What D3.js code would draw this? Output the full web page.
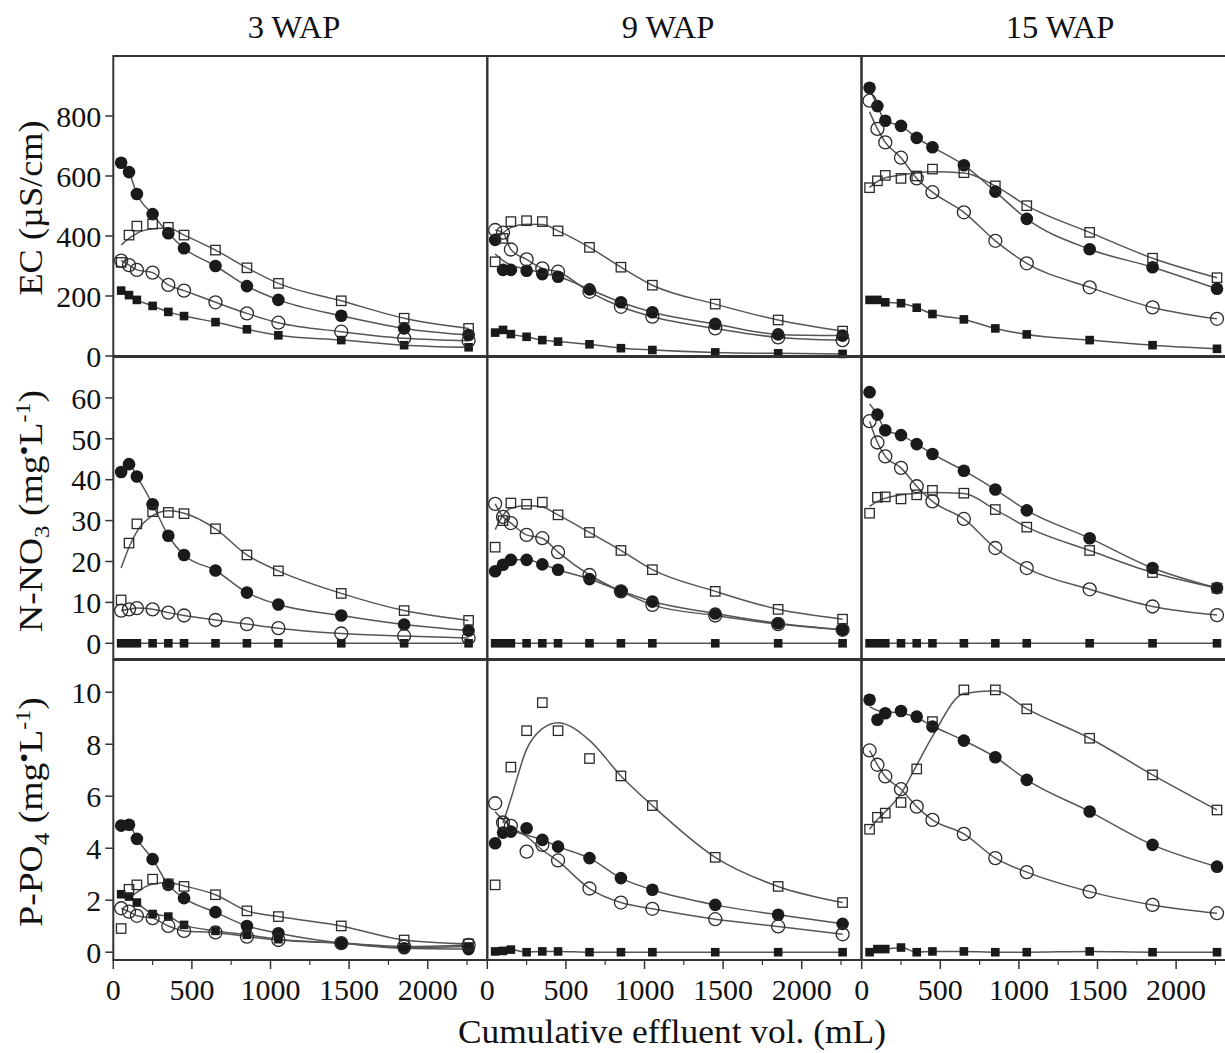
<!DOCTYPE html>
<html>
<head>
<meta charset="utf-8">
<script src="https://cdn.jsdelivr.net/npm/d3@7"></script>
<style>
  body { margin: 0; background: #fff; }
  svg { display: block; }
  text { font-family: "Liberation Serif", "Times New Roman", serif; fill: #111; }
</style>
</head>
<body>
<svg id="chart" width="1225" height="1053"></svg>
<script>
// cumulative effluent volume (mL) at each sampling
const volumes = [50, 100, 150, 250, 350, 450, 650, 850, 1050, 1450, 1850, 2260];
const weeks = ["3 WAP", "9 WAP", "15 WAP"];
// series order in every panel array below
const markers = ["filledCircle", "openCircle", "openSquare", "filledSquare"];

const ecTicks = [0, 200, 400, 600, 800];
const no3Ticks = [0, 10, 20, 30, 40, 50, 60];
const po4Ticks = [0, 2, 4, 6, 8, 10];
const xTicks = [0, 500, 1000, 1500, 2000];
const xMinorTicks = [250, 750, 1250, 1750, 2250];

// EC (uS/cm)
const ec3 = [
  [644, 613, 540, 473, 409, 359, 300, 233, 187, 134, 92, 70],
  [318, 303, 287, 278, 237, 218, 179, 142, 111, 81, 59, 51],
  [312, 403, 433, 440, 429, 403, 353, 294, 242, 184, 126, 92],
  [218, 203, 187, 167, 147, 133, 113, 89, 69, 53, 36, 29]
];
const ec9 = [
  [387, 287, 287, 284, 273, 264, 222, 179, 146, 107, 72, 68],
  [420, 411, 355, 322, 292, 281, 214, 164, 131, 92, 62, 53],
  [314, 392, 448, 451, 448, 417, 362, 296, 236, 173, 120, 83],
  [78, 87, 73, 64, 53, 48, 39, 26, 20, 12, 9, 7]
];
const ec15 = [
  [894, 833, 784, 767, 727, 696, 636, 548, 457, 356, 296, 224],
  [851, 757, 712, 661, 592, 546, 479, 384, 309, 229, 162, 124],
  [561, 584, 602, 592, 600, 623, 611, 567, 501, 412, 326, 261],
  [187, 187, 179, 176, 161, 140, 122, 92, 72, 53, 36, 24]
];

// N-NO3 (mg/L)
const no3_3 = [
  [41.9, 43.8, 40.8, 34.0, 26.3, 21.6, 17.8, 12.4, 9.5, 6.8, 4.6, 3.1],
  [8.0, 8.3, 8.6, 8.3, 7.5, 6.8, 5.7, 4.7, 3.7, 2.4, 1.8, 1.3],
  [10.6, 24.5, 29.2, 32.2, 32.0, 31.7, 28.0, 21.6, 17.7, 12.2, 8.0, 5.6],
  [0, 0, 0, 0, 0, 0, 0, 0, 0, 0, 0, 0]
];
const no3_9 = [
  [17.6, 19.2, 20.4, 20.4, 19.3, 18.0, 15.7, 12.8, 10.2, 7.3, 4.9, 3.3],
  [34.1, 30.9, 29.4, 26.5, 25.7, 22.3, 16.7, 12.7, 9.4, 6.8, 4.7, 3.3],
  [23.5, 30.0, 34.3, 34.0, 34.5, 31.4, 27.1, 22.7, 18.0, 12.7, 8.3, 5.9],
  [0, 0, 0, 0, 0, 0, 0, 0, 0, 0, 0, 0]
];
const no3_15 = [
  [61.4, 55.9, 52.1, 50.9, 48.7, 46.3, 42.2, 37.6, 32.5, 25.7, 18.4, 13.5],
  [54.3, 49.1, 45.7, 42.9, 38.4, 34.7, 30.4, 23.3, 18.4, 13.2, 9.0, 6.9],
  [31.8, 35.7, 35.8, 35.3, 36.3, 37.4, 36.7, 32.7, 28.4, 22.7, 17.3, 13.5],
  [0, 0, 0, 0, 0, 0, 0, 0, 0, 0, 0, 0]
];

// P-PO4 (mg/L)
const po4_3 = [
  [4.87, 4.90, 4.36, 3.58, 2.59, 2.08, 1.54, 1.01, 0.73, 0.35, 0.15, 0.12],
  [1.69, 1.56, 1.40, 1.31, 1.01, 0.82, 0.76, 0.60, 0.47, 0.35, 0.22, 0.28],
  [0.91, 2.42, 2.59, 2.81, 2.63, 2.53, 2.21, 1.59, 1.37, 1.01, 0.47, 0.32],
  [2.23, 2.14, 1.91, 1.47, 1.37, 1.05, 0.82, 0.67, 0.50, 0.35, 0.18, 0.22]
];
const po4_9 = [
  [4.19, 4.60, 4.64, 4.77, 4.32, 4.06, 3.62, 2.85, 2.40, 1.82, 1.44, 1.09],
  [5.73, 4.99, 4.86, 3.87, 4.13, 3.53, 2.45, 1.91, 1.67, 1.27, 0.99, 0.69],
  [2.59, 4.96, 7.12, 8.52, 9.60, 8.52, 7.45, 6.78, 5.64, 3.65, 2.53, 1.91],
  [0.03, 0.05, 0.10, 0.0, 0.03, 0.03, 0.0, 0.0, 0.0, 0.0, 0.0, 0.0]
];
const po4_15 = [
  [9.71, 8.94, 9.19, 9.28, 9.06, 8.68, 8.14, 7.50, 6.63, 5.41, 4.13, 3.29],
  [7.76, 7.21, 6.76, 6.27, 5.60, 5.09, 4.55, 3.62, 3.08, 2.33, 1.82, 1.50],
  [4.73, 5.19, 5.35, 5.76, 7.05, 8.87, 10.09, 10.09, 9.36, 8.23, 6.82, 5.47],
  [0.0, 0.12, 0.12, 0.18, 0.0, 0.03, 0.03, 0.0, 0.0, 0.03, 0.0, 0.0]
];

// fitted curves where they leave the points (null = curve not drawn there)
const fits = [
  { panel: "ec3", series: 2, values: [370, 392, 409, 424, 427, 403, 353, 294, 242, 184, 126, 92] },
  { panel: "ec9", series: 0, values: [340, 318, 303, 290, 276, 265, 222, 179, 146, 107, 72, 68] },
  { panel: "ec9", series: 2, values: [381, 410, 428, 439, 438, 417, 362, 296, 236, 173, 120, 83] },
  { panel: "ec15", series: 1, values: [814, 757, 712, 661, 592, 546, 479, 384, 309, 229, 162, 124] },
  { panel: "ec15", series: 2, values: [562, 582, 594, 603, 610, 614, 610, 567, 501, 412, 326, 261] },
  { panel: "no3_3", series: 2, values: [18.4, 23.5, 27.3, 31.2, 32.4, 31.8, 28.0, 21.6, 17.7, 12.2, 8.0, 5.6] },
  { panel: "no3_9", series: 2, values: [27.8, 31.3, 33.0, 33.6, 33.3, 31.4, 27.1, 22.7, 18.0, 12.7, 8.3, 5.9] },
  { panel: "no3_15", series: 0, values: [58.5, 55.9, 52.1, 50.9, 48.7, 46.3, 42.2, 37.6, 32.5, 25.7, 18.4, 13.5] },
  { panel: "no3_15", series: 2, values: [33.5, 34.7, 35.5, 36.3, 36.7, 36.9, 36.6, 32.7, 28.4, 22.7, 17.3, 13.5] },
  { panel: "po4_3", series: 2, values: [null, 2.05, 2.3, 2.62, 2.68, 2.55, 2.21, 1.59, 1.37, 1.01, 0.47, 0.32] },
  { panel: "po4_9", series: 0, values: [4.19, 4.6, 4.64, 4.5, 4.32, 4.06, 3.62, 2.85, 2.40, 1.82, 1.44, 1.09] },
  { panel: "po4_9", series: 1, values: [5.4, 5.09, 4.83, 4.45, 3.93, 3.5, 2.45, 1.91, 1.67, 1.27, 0.99, 0.69] },
  { panel: "po4_9", series: 2, values: [null, 4.96, 5.9, 7.8, 8.6, 8.83, 8.15, 6.78, 5.64, 3.65, 2.53, 1.91] },
  { panel: "po4_15", series: 0, values: [9.45, 9.3, 9.25, 9.2, 9.02, 8.7, 8.14, 7.50, 6.63, 5.41, 4.13, 3.29] },
  { panel: "po4_15", series: 2, values: [4.73, 5.1, 5.4, 6.1, 7.2, 8.3, 9.95, 10.06, 9.36, 8.23, 6.82, 5.47] }
];

const panelData = { ec3, ec9, ec15, no3_3, no3_9, no3_15, po4_3, po4_9, po4_15 };

// layout
const colLeft = [113.3, 487.3, 861.7];
const colWidth = 374;
const xMax = 2379;
const rows = [
  { panels: ["ec3", "ec9", "ec15"], top: 56, bottom: 356, domain: [0, 1000], ticks: ecTicks },
  { panels: ["no3_3", "no3_9", "no3_15"], top: 357, bottom: 659, domain: [-3.84, 70], ticks: no3Ticks },
  { panels: ["po4_3", "po4_9", "po4_15"], top: 660, bottom: 960, domain: [-0.3, 11.24], ticks: po4Ticks }
];

const svg = d3.select("#chart");
const lineColor = "#555";
const ink = "#1a1a1a";

rows.forEach(function(row, r) {
  const y = d3.scaleLinear().domain(row.domain).range([row.bottom, row.top]);

  row.panels.forEach(function(name, c) {
    const x = d3.scaleLinear().domain([0, xMax]).range([colLeft[c], colLeft[c] + colWidth]);
    const g = svg.append("g");
    const series = panelData[name];

    // curves first
    series.forEach(function(vals, s) {
      const fit = fits.find(function(f) { return f.panel === name && f.series === s; });
      const curveVals = fit ? fit.values : vals;
      const line = d3.line()
        .defined(function(d) { return d != null; })
        .x(function(d, i) { return x(volumes[i]); })
        .y(function(d) { return y(d); })
        .curve(d3.curveMonotoneX);
      g.append("path")
        .attr("d", line(curveVals))
        .attr("fill", "none")
        .attr("stroke", lineColor)
        .attr("stroke-width", 1.5);
    });

    // markers, filled square first so open symbols stay on top
    [3, 0, 2, 1].forEach(function(s) {
      const vals = series[s];
      const kind = markers[s];
      vals.forEach(function(v, i) {
        const px = x(volumes[i]), py = y(v);
        if (kind === "filledCircle") {
          g.append("circle").attr("cx", px).attr("cy", py).attr("r", 6.3).attr("fill", ink);
        } else if (kind === "openCircle") {
          g.append("circle").attr("cx", px).attr("cy", py).attr("r", 6.5)
            .attr("fill", "none").attr("stroke", "#2a2a2a").attr("stroke-width", 1.3);
        } else if (kind === "openSquare") {
          g.append("rect").attr("x", px - 4.7).attr("y", py - 4.7).attr("width", 9.4).attr("height", 9.4)
            .attr("fill", "none").attr("stroke", "#2a2a2a").attr("stroke-width", 1.3);
        } else {
          g.append("rect").attr("x", px - 4.3).attr("y", py - 4.3).attr("width", 8.6).attr("height", 8.6)
            .attr("fill", ink);
        }
      });
    });

    // panel frame
    svg.append("rect")
      .attr("x", colLeft[c]).attr("y", row.top)
      .attr("width", colWidth).attr("height", row.bottom - row.top)
      .attr("fill", "none").attr("stroke", "#333").attr("stroke-width", 2);

    // x axis ticks on bottom row only
    if (r === rows.length - 1) {
      xTicks.forEach(function(t) {
        svg.append("line").attr("x1", x(t)).attr("x2", x(t))
          .attr("y1", row.bottom).attr("y2", row.bottom + 9)
          .attr("stroke", "#333").attr("stroke-width", 1.5);
        svg.append("text").attr("x", x(t)).attr("y", 1000)
          .attr("text-anchor", "middle").attr("font-size", 30).text(t);
      });
      xMinorTicks.forEach(function(t) {
        svg.append("line").attr("x1", x(t)).attr("x2", x(t))
          .attr("y1", row.bottom).attr("y2", row.bottom + 5)
          .attr("stroke", "#333").attr("stroke-width", 1.2);
      });
    }
  });

  // y ticks on the left column
  row.ticks.forEach(function(t) {
    svg.append("line").attr("x1", colLeft[0] - 8).attr("x2", colLeft[0])
      .attr("y1", y(t)).attr("y2", y(t))
      .attr("stroke", "#333").attr("stroke-width", 1.5);
    svg.append("text").attr("x", colLeft[0] - 12).attr("y", y(t)).attr("dy", "0.36em")
      .attr("text-anchor", "end").attr("font-size", 30).text(t);
  });
});

// column titles
const titleX = [294, 668, 1060];
weeks.forEach(function(w, c) {
  svg.append("text").attr("x", titleX[c]).attr("y", 38)
    .attr("text-anchor", "middle").attr("font-size", 32.5).text(w);
});

// x axis title
svg.append("text").attr("x", 672).attr("y", 1043)
  .attr("text-anchor", "middle").attr("font-size", 34)
  .attr("textLength", 428).attr("lengthAdjust", "spacingAndGlyphs")
  .text("Cumulative effluent vol. (mL)");

// y axis titles (stretched along the text like the source figure)
function yTitle(cy, stretch, parts) {
  const t = svg.append("text")
    .attr("transform", "translate(42," + cy + ") rotate(-90) scale(" + stretch + ",1)")
    .attr("text-anchor", "middle").attr("font-size", 33);
  parts.forEach(function(p) {
    const ts = t.append("tspan").text(p.text);
    if (p.size) ts.attr("font-size", p.size);
    if (p.dy) ts.attr("dy", p.dy);
  });
}
yTitle(208, 1.1, [{ text: "EC (µS/cm)" }]);
yTitle(511, 1.14, [
  { text: "N-NO" }, { text: "3", size: 22, dy: 7 }, { text: " (mg", dy: -7 },
  { text: "•", size: 25, dy: -9 }, { text: "L", dy: 9 },
  { text: "-1", size: 21, dy: -12 }, { text: ")", dy: 12 }
]);
yTitle(812, 1.14, [
  { text: "P-PO" }, { text: "4", size: 22, dy: 7 }, { text: " (mg", dy: -7 },
  { text: "•", size: 25, dy: -9 }, { text: "L", dy: 9 },
  { text: "-1", size: 21, dy: -12 }, { text: ")", dy: 12 }
]);
</script>
</body>
</html>
